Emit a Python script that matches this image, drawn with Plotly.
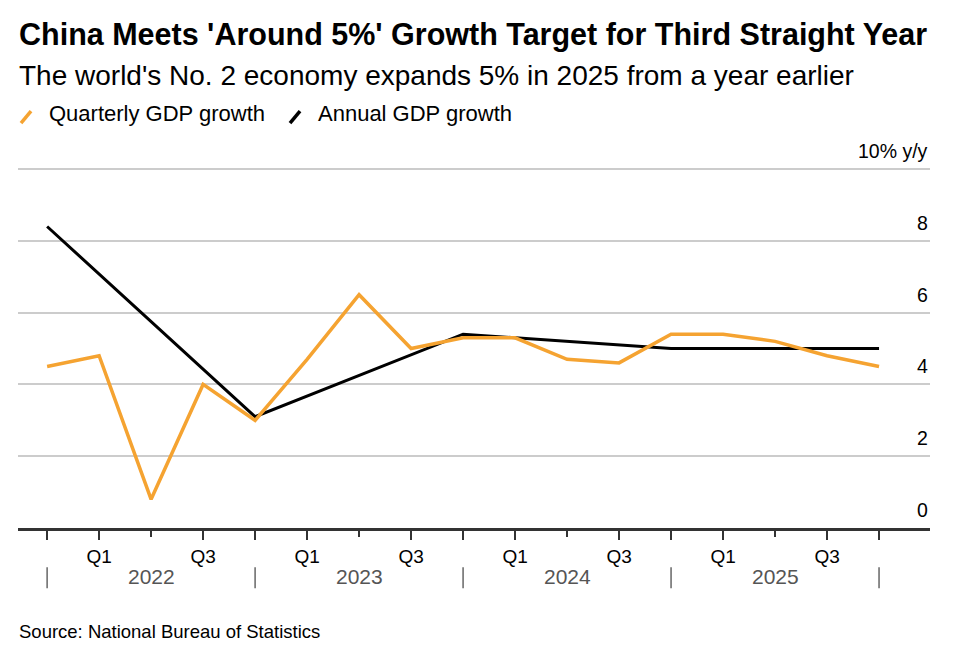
import plotly.graph_objects as go

# ---- data ----
quarters = ["Q4 2021", "Q1 2022", "Q2 2022", "Q3 2022", "Q4 2022",
            "Q1 2023", "Q2 2023", "Q3 2023", "Q4 2023",
            "Q1 2024", "Q2 2024", "Q3 2024", "Q4 2024",
            "Q1 2025", "Q2 2025", "Q3 2025", "Q4 2025"]
quarterly_gdp = [4.5, 4.8, 0.8, 4.0, 3.0, 4.7, 6.5, 5.0, 5.3,
                 5.3, 4.7, 4.6, 5.4, 5.4, 5.2, 4.8, 4.5]
annual_quarters = ["Q4 2021", "Q4 2022", "Q4 2023", "Q4 2024", "Q4 2025"]
annual_gdp = [8.4, 3.1, 5.4, 5.0, 5.0]
years = ["2022", "2023", "2024", "2025"]
y_ticks = [0, 2, 4, 6, 8, 10]
y_labels = ["0", "2", "4", "6", "8", "10% y/y"]

ORANGE = "#F5A331"
FONT = "Liberation Sans"

OFF = 8  # page body margin
W, H = 966 - 2 * OFF, 652 - 2 * OFF
# plot area in screenshot pixels
L_s, R_s, B_s = 18, 930, 527.7
YMAX = 10.03
T_s = 169 - (YMAX - 10) * (B_s - 169) / 10

L, R, T, B = L_s - OFF, R_s - OFF, T_s - OFF, B_s - OFF


def px(x):  # screenshot x -> paper
    return (x - OFF - L) / (R - L)


def py(y):  # screenshot y -> paper
    return (B - (y - OFF)) / (B - T)


idx = {q: i for i, q in enumerate(quarters)}
xq = [idx[q] for q in quarters]
xa = [idx[q] for q in annual_quarters]
x_major = [idx[q] for q in quarters if not q.startswith("Q2")]
x_minor = [idx[q] for q in quarters if q.startswith("Q2")]
major_text = [q.split()[0] if q.split()[0] in ("Q1", "Q3") else ""
              for q in quarters if not q.startswith("Q2")]

fig = go.Figure()
fig.add_trace(go.Scatter(x=xa, y=annual_gdp, mode="lines",
                         line=dict(color="#000000", width=3),
                         name="Annual GDP growth", showlegend=False))
fig.add_trace(go.Scatter(x=xq, y=quarterly_gdp, mode="lines",
                         line=dict(color=ORANGE, width=3.5),
                         name="Quarterly GDP growth", showlegend=False))

fig.update_layout(
    width=W, height=H,
    margin=dict(l=L, r=W - R, t=T, b=H - B),
    paper_bgcolor="white", plot_bgcolor="white",
    font=dict(family=FONT, color="#000000"),
    xaxis=dict(range=[-0.56, 16.98], tickmode="array", tickvals=x_major, ticktext=major_text,
               ticks="outside", ticklen=9, tickwidth=1.5, tickcolor="#333333",
               minor=dict(tickmode="array", tickvals=x_minor, ticks="outside",
                          ticklen=6, tickwidth=1.5, tickcolor="#333333", showgrid=False),
               showgrid=False, zeroline=False, showline=True,
               linecolor="#333333", linewidth=2.5,
               tickfont=dict(size=19, color="#000000", family=FONT),
               ticklabelstandoff=0),
    yaxis=dict(range=[0, YMAX], tickvals=y_ticks, showticklabels=False,
               showgrid=True, gridcolor="#cccccc", gridwidth=1.5,
               zeroline=False, showline=False, fixedrange=True),
)

annotations = []
# y labels above gridlines, right aligned
for v, lab in zip(y_ticks, y_labels):
    annotations.append(dict(x=1, xref="paper", xanchor="right", y=v, yref="y",
                            yanchor="bottom", yshift=5, text=lab, showarrow=False,
                            font=dict(size=19.5, color="#000000", family=FONT)))

shapes = []
# year separators and labels
for k in range(len(years) + 1):
    xv = 4 * k
    shapes.append(dict(type="line", xref="x", yref="paper", x0=xv, x1=xv,
                       y0=py(567), y1=py(588),
                       line=dict(color="#666666", width=1.5)))
for k, yr in enumerate(years):
    annotations.append(dict(x=4 * k + 2, xref="x", y=py(576), yref="paper",
                            text=yr, showarrow=False, xanchor="center", yanchor="middle",
                            font=dict(size=21, color="#555555", family=FONT)))

# title, subtitle
annotations.append(dict(x=px(17), xref="paper", xanchor="left", y=py(35), yref="paper",
                        yanchor="middle", showarrow=False,
                        text="<b>China Meets 'Around 5%' Growth Target for Third Straight Year</b>",
                        font=dict(size=30.5, color="#000000", family=FONT)))
annotations.append(dict(x=px(17), xref="paper", xanchor="left", y=py(75), yref="paper",
                        yanchor="middle", showarrow=False,
                        text="The world's No. 2 economy expands 5% in 2025 from a year earlier",
                        font=dict(size=28, color="#000000", family=FONT)))

# manual legend
legend_items = [("Quarterly GDP growth", ORANGE, 21, 47), ("Annual GDP growth", "#000000", 290, 316)]
for text, color, sx, tx in legend_items:
    shapes.append(dict(type="line", xref="paper", yref="paper",
                       x0=px(sx), x1=px(sx + 10), y0=py(123), y1=py(111),
                       line=dict(color=color, width=3.5)))
    annotations.append(dict(x=px(tx), xref="paper", xanchor="left", y=py(113), yref="paper",
                            yanchor="middle", showarrow=False, text=text,
                            font=dict(size=22, color="#000000", family=FONT)))

# source
annotations.append(dict(x=px(17), xref="paper", xanchor="left", y=py(631), yref="paper",
                        yanchor="middle", showarrow=False,
                        text="Source: National Bureau of Statistics",
                        font=dict(size=18.5, color="#000000", family=FONT)))

fig.update_layout(annotations=annotations, shapes=shapes)
fig.write_html("out.html")
